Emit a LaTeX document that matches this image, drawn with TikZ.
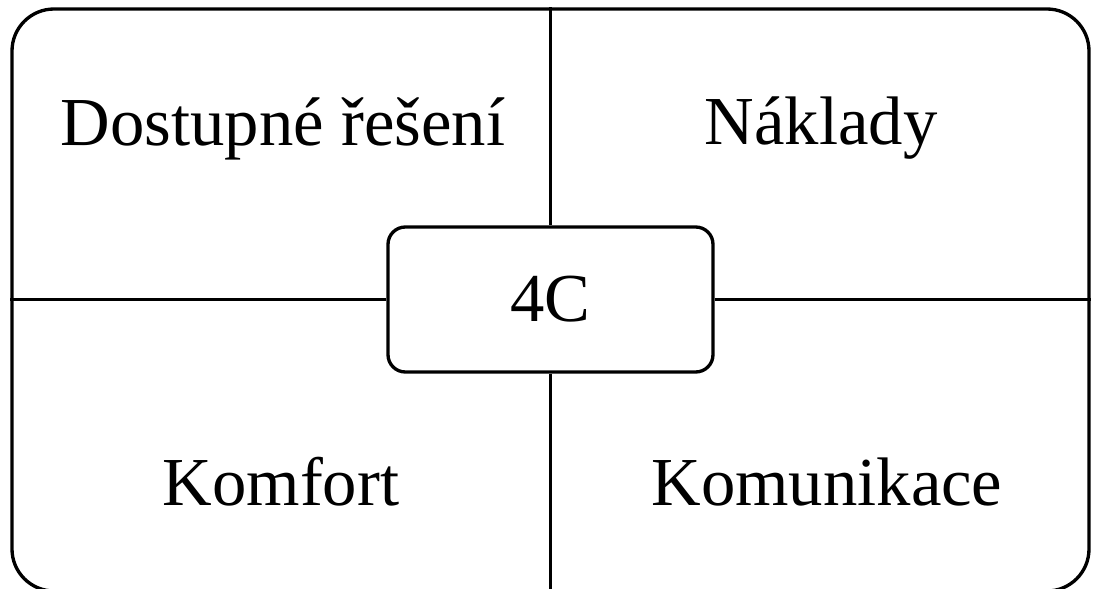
\documentclass[tikz,border=0pt]{standalone}
\usepackage{fontspec}
\setmainfont{Liberation Serif}
\begin{document}
\begin{tikzpicture}[x=0.75pt,y=-0.75pt,
  line width=2.5pt,
  lbl/.style={anchor=base,inner sep=0pt,font=\fontsize{51.5}{60}\selectfont},
  framebox/.style={draw,rectangle,rounded corners=31.5pt,minimum width=807.75pt,minimum height=436.5pt,inner sep=0pt},
  centerbox/.style={draw,fill=white,rectangle,rounded corners=13pt,minimum width=243.75pt,minimum height=108.75pt,inner sep=0pt}]
\useasboundingbox (0,0) rectangle (1093,589);
\clip (0,0) rectangle (1093,589);
\node[framebox] (frame) at (550.5,300) {};
\node[centerbox] (c) at (550.5,299.5) {};
\node[lbl] (t4c) at (550.5,321) {4C};
\draw (c.north) -- (c.north |- frame.north);
\draw (c.south) -- (c.south |- frame.south);
\draw (c.west) -- (c.west -| frame.west);
\draw (c.east) -- (c.east -| frame.east);
\node[lbl] (dost) at (283,145) {Dostupné řešení};
\node[lbl] (nakl) at (821,144) {Náklady};
\node[lbl] (komf) at (281,505) {Komfort};
\node[lbl] (komu) at (827,505) {Komunikace};
\end{tikzpicture}
\end{document}
